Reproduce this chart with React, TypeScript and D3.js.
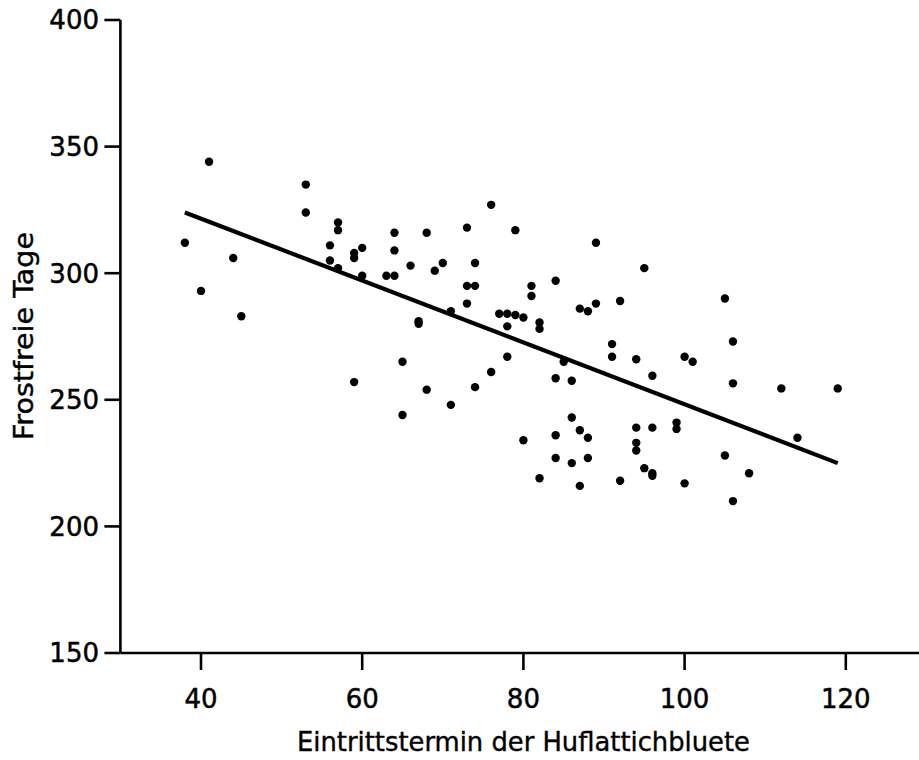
import React from "react";
import * as d3 from "d3";

const pointX = [38, 40, 41, 44, 45, 53, 53, 56, 56, 57, 57, 57, 59, 59, 59, 60, 60, 63, 64, 64, 64, 65, 65, 66, 67, 67, 68, 68, 69, 70, 71, 71, 73, 73, 73, 74, 74, 74, 76, 76, 77, 78, 78, 78, 79, 79, 80, 80, 81, 81, 82, 82, 82, 84, 84, 84, 84, 85, 86, 86, 86, 87, 87, 87, 88, 88, 88, 89, 89, 91, 91, 92, 92, 94, 94, 94, 94, 95, 95, 96, 96, 96, 96, 99, 99, 100, 100, 101, 105, 105, 106, 106, 106, 108, 112, 114, 119];
const pointY = [312, 293, 344, 306, 283, 335, 324, 311, 305, 320, 317, 302, 308, 306, 257, 310, 299, 299, 299, 316, 309, 265, 244, 303, 281, 280, 316, 254, 301, 304, 285, 248, 318, 295, 288, 304, 295, 255, 327, 261, 284, 284, 279, 267, 317, 283.5, 282.5, 234, 295, 291, 280.5, 278, 219, 297, 258.5, 236, 227, 265, 257.5, 243, 225, 286, 238, 216, 285, 235, 227, 312, 288, 272, 267, 289, 218, 266, 239, 233, 230, 302, 223, 259.5, 239, 221, 220, 241, 238.5, 267, 217, 265, 290, 228, 273, 256.5, 210, 221, 254.5, 235, 254.5];
const lineX = [38, 119];
const lineY = [324, 225];
const xTicks = [40, 60, 80, 100, 120];
const yTicks = [150, 200, 250, 300, 350, 400];
const xTitle = "Eintrittstermin der Huflattichbluete";
const yTitle = "Frostfreie Tage";

export default function App() {
  const x = d3.scaleLinear().domain([30, 130]).range([120.4, 926.4]);
  const y = d3.scaleLinear().domain([150, 400]).range([653, 20]);
  const line = d3
    .line<number>()
    .x((_, i) => x(lineX[i]))
    .y((d) => y(d));
  const font = "'DejaVu Sans', sans-serif";
  return (
    <svg
      width={919}
      height={760}
      style={{ position: "absolute", left: 0, top: 0, display: "block", background: "#fff" }}
    >
      <g stroke="#000" strokeWidth={2.6} fill="none">
        <line x1={x(30)} x2={x(30)} y1={y(400)} y2={y(150)} />
        <line x1={x(30)} x2={x(130)} y1={y(150)} y2={y(150)} />
        {yTicks.map((t) => (
          <line key={"yt" + t} x1={x(30) - 16} x2={x(30)} y1={y(t)} y2={y(t)} />
        ))}
        {xTicks.map((t) => (
          <line key={"xt" + t} x1={x(t)} x2={x(t)} y1={y(150)} y2={y(150) + 17} />
        ))}
      </g>
      <g fontFamily={font} fontSize={26} fill="#000" stroke="#000" strokeWidth={0.5}>
        {yTicks.map((t) => (
          <text key={"yl" + t} x={99} y={y(t)} dy="0.36em" textAnchor="end">
            {t}
          </text>
        ))}
        {xTicks.map((t) => (
          <text key={"xl" + t} x={x(t)} y={708} textAnchor="middle">
            {t}
          </text>
        ))}
      </g>
      <text
        x={523.5}
        y={751}
        textAnchor="middle"
        fontFamily={font}
        fontSize={27}
        textLength={453}
        lengthAdjust="spacingAndGlyphs"
        stroke="#000"
        strokeWidth={0.4}
      >
        {xTitle}
      </text>
      <text
        transform="translate(33,336) rotate(-90)"
        textAnchor="middle"
        fontFamily={font}
        fontSize={26}
        textLength={208}
        lengthAdjust="spacingAndGlyphs"
        stroke="#000"
        strokeWidth={0.4}
      >
        {yTitle}
      </text>
      <path d={line(lineY) || ""} stroke="#000" strokeWidth={4.2} fill="none" />
      <g fill="#000">
        {pointX.map((px, i) => (
          <circle key={i} cx={x(px)} cy={y(pointY[i])} r={4.2} />
        ))}
      </g>
    </svg>
  );
}
